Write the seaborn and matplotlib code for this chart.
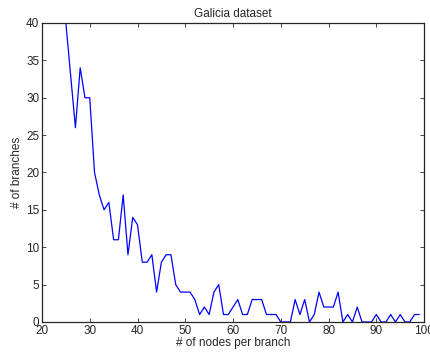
import numpy as np
import pandas as pd
import matplotlib
matplotlib.use('Agg')
import matplotlib.pyplot as plt
import seaborn as sns

# nodes per branch vs number of branches
nodes = list(range(24, 100))
branches = [55, 40, 33, 26, 34, 30, 30, 20, 17, 15, 16, 11, 11, 17, 9, 14,
            13, 8, 8, 9, 4, 8, 9, 9, 5, 4, 4, 4, 3, 1, 2, 1, 4, 5, 1, 1,
            2, 3, 1, 1, 3, 3, 3, 1, 1, 1, 0, 0, 0, 3, 1, 3, 0, 1, 4, 2,
            2, 2, 4, 0, 1, 0, 2, 0, 0, 0, 1, 0, 0, 1, 0, 1, 0, 0, 1, 1]

df = pd.DataFrame({'nodes': nodes, 'branches': branches})

sns.set_theme(style='ticks')
plt.rcParams['font.family'] = ['Liberation Sans', 'DejaVu Sans']
plt.rcParams['xtick.direction'] = 'in'
plt.rcParams['ytick.direction'] = 'in'

fig = plt.figure(figsize=(4.31, 3.58), dpi=100)
ax = fig.add_axes([0.0974, 0.1006, 0.8866, 0.8352])

sns.lineplot(data=df, x='nodes', y='branches', color='#0000ff', linewidth=0.9, ax=ax)

ax.set_xlim(20, 100)
ax.set_ylim(0, 40)
ax.set_xticks(range(20, 101, 10))
ax.set_yticks(range(0, 41, 5))
ax.tick_params(labelsize=8.5, length=3, width=0.6, top=True, right=True, pad=2)
for s in ax.spines.values():
    s.set_linewidth(0.9)
    s.set_visible(True)

ax.set_title('Galicia dataset', fontsize=8.5, pad=4)
ax.set_xlabel('# of nodes per branch', fontsize=8.5, labelpad=0)
ax.set_ylabel('# of branches', fontsize=8.5, labelpad=2)

fig.savefig('out.png', dpi=100)
plt.close()
